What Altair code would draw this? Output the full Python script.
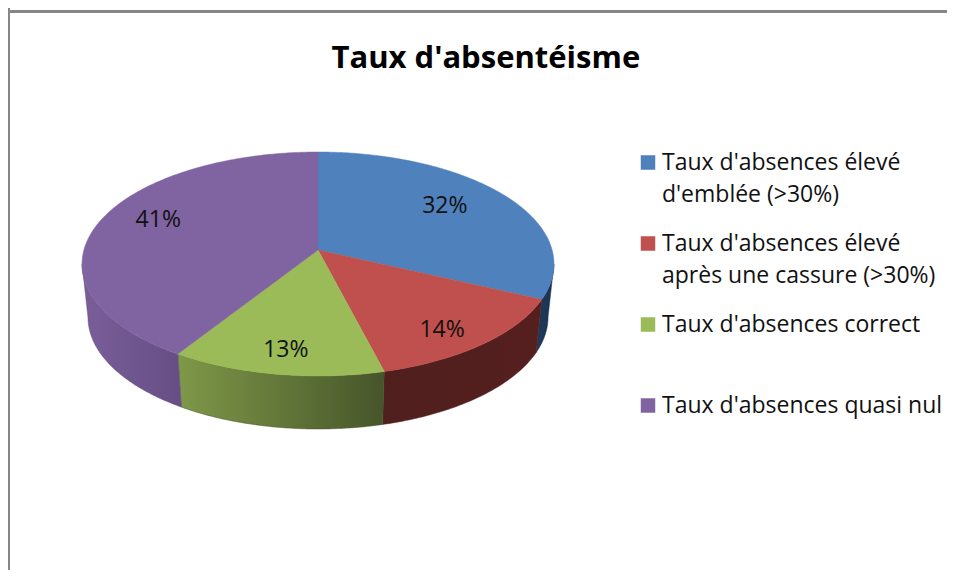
import math
import altair as alt
import pandas as pd

# --- chart values
categories = ["Taux d'absences élevé\nd'emblée (>30%)",
              "Taux d'absences élevé\naprès une cassure (>30%)",
              "Taux d'absences correct",
              "Taux d'absences quasi nul"]
shares = [32, 14, 13, 41]
colors = ["#4F81BD", "#C0504D", "#9BBB59", "#8064A2"]

# --- layout of the perspective pie (page pixels, minus the 8px page margin)
W, H = 939, 562
CX, APEX_Y = 310, 242
A, B, K = 234.1, 110.25, 0.125
DEPTH, BOTTOM_SHRINK = 53, 0.975
SIL = math.degrees(math.asin(K))          # silhouette offset from 90 deg
LABEL_R = [0.715, 0.818, 0.816, 0.765]
LABEL_SHIFT = [-4.6, 3.1, -0.3, 6.2]
FONT = "Open Sans"


def project(theta, r=1.0):
    t = math.radians(theta)
    X, Y = r * math.sin(t), r * math.cos(t)
    d = 1 + K * Y
    return CX + A * X / d, APEX_Y - B * Y / d


def arc_pts(a, b):
    n = max(2, int(abs(b - a) * 1.5))
    return [project(a + (b - a) * i / n) for i in range(n + 1)]


cum = [0]
for s in shares:
    cum.append(cum[-1] + s * 3.6)

top_rows, wall_rows, label_rows = [], [], []
for k, cat in enumerate(categories):
    a, b = cum[k], cum[k + 1]
    pts = [project(0, 0)] + arc_pts(a, b)
    pts.append(pts[0])
    for i, (x, y) in enumerate(pts):
        top_rows.append({"cat": cat, "i": i, "x": x, "y": y})
    lo, hi = max(a, 90 + SIL), min(b, 270 - SIL)
    if lo < hi:
        edge = arc_pts(lo, hi)
        ring = edge + [(CX + (x - CX) * BOTTOM_SHRINK, y + DEPTH) for x, y in reversed(edge)]
        ring.append(ring[0])
        for i, (x, y) in enumerate(ring):
            wall_rows.append({"cat": cat, "i": i, "x": x, "y": y})
    lx, ly = project((a + b) / 2 + LABEL_SHIFT[k], LABEL_R[k])
    label_rows.append({"x": lx, "y": ly + 1, "t": f"{shares[k]}%"})

top_df = pd.DataFrame(top_rows)
wall_df = pd.DataFrame(wall_rows)
label_df = pd.DataFrame(label_rows)
legend_df = pd.DataFrame({"cat": categories,
                          "x": [640] * 4,
                          "tx": [654] * 4,
                          "y": [154.5 + 81 * i for i in range(4)]})
legend_df["ty"] = legend_df["y"] + 7.5

xs = alt.Scale(domain=[0, W], range=[0, W])
ys = alt.Scale(domain=[0, H], range=[0, H])
X = alt.X("x:Q", scale=xs, axis=None)
Y = alt.Y("y:Q", scale=ys, axis=None)
col = alt.Color("cat:N", scale=alt.Scale(domain=categories, range=colors), legend=None)


def wall(idx, c0, c1):
    g = alt.Gradient(gradient="linear", x1=0, x2=1, y1=0, y2=0,
                     stops=[alt.GradientStop(color=c0, offset=0), alt.GradientStop(color=c1, offset=1)])
    return (alt.Chart(wall_df[wall_df["cat"] == categories[idx]])
            .mark_line(fill=g, stroke=c1, strokeWidth=0.5)
            .encode(x=X, y=Y, order="i:Q"))


walls = [wall(0, "#1F3A5C", "#1B3350"), wall(1, "#4F1F1E", "#551F1E"),
         wall(2, "#7F9848", "#46552A"), wall(3, "#7A5E9A", "#664E84")]

tops = []
for k, cat in enumerate(categories):
    tops.append(alt.Chart(top_df[top_df["cat"] == cat])
                .mark_line(fill=colors[k], stroke=colors[k], strokeWidth=0.5)
                .encode(x=X, y=Y, order="i:Q"))

labels = alt.Chart(label_df).mark_text(font=FONT, fontSize=23, color="#111111", align="center", baseline="middle").encode(
    x=X, y=Y, text="t:N")
swatches = alt.Chart(legend_df).mark_square(size=210, opacity=1, filled=True).encode(
    x=X, y=Y, color=col)
legend_txt = alt.Chart(legend_df).mark_text(
    font=FONT, fontSize=23, color="#111111", align="left", baseline="alphabetic", lineBreak="\n", lineHeight=32
).encode(x=alt.X("tx:Q", scale=xs, axis=None), y=alt.Y("ty:Q", scale=ys, axis=None), text="cat:N")

one = alt.Data(values=[{"a": 1}])
left = alt.Chart(one).mark_rule(color="#868686", strokeWidth=2).encode(
    x=alt.value(1), y=alt.value(0), y2=alt.value(H))
topline = alt.Chart(one).mark_rule(color="#868686", strokeWidth=3).encode(
    y=alt.value(3.5), x=alt.value(0), x2=alt.value(W))

chart = alt.layer(left, topline, *walls, *tops, labels, swatches, legend_txt).properties(
    width=W, height=H, padding=0, autosize=alt.AutoSizeParams(type="none"),
    title=alt.TitleParams("Taux d'absentéisme", font=FONT, fontSize=31, fontWeight="bold", color="#000000",
                          anchor="start", dx=325, dy=72),
).configure_view(stroke=None)

chart.save("out.html", embed_options={"renderer": "svg", "actions": False})
